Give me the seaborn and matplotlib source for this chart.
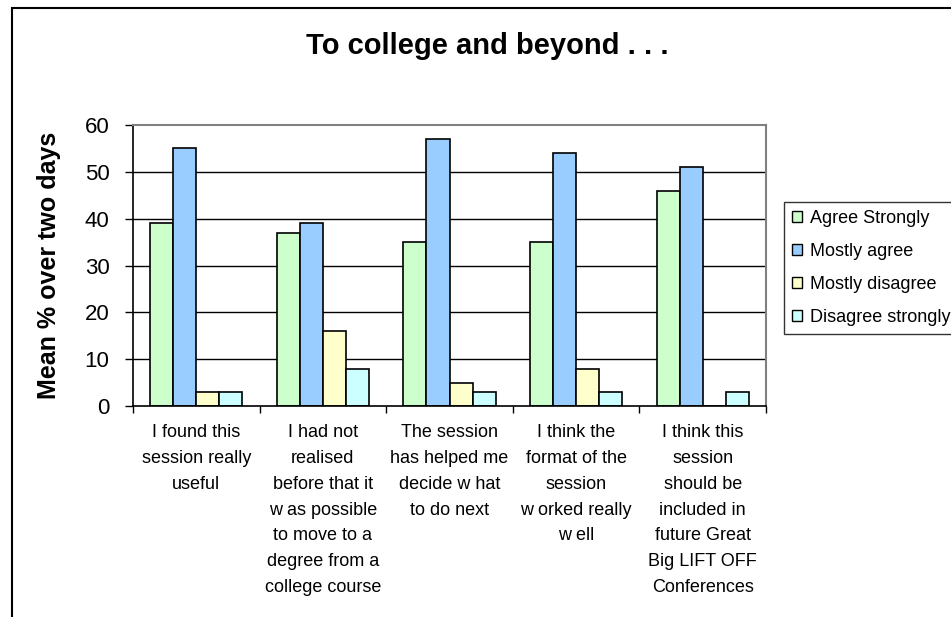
import numpy as np
import pandas as pd
import matplotlib
matplotlib.use('Agg')
import matplotlib.pyplot as plt
import seaborn as sns
from matplotlib.patches import Rectangle

# Survey statements (x axis), wrapped as in the original chart
statements = [
    'I found this\nsession really\nuseful',
    'I had not\nrealised\nbefore that it\nw as possible\nto move to a\ndegree from a\ncollege course',
    'The session\nhas helped me\ndecide w hat\nto do next',
    'I think the\nformat of the\nsession\nw orked really\nw ell',
    'I think this\nsession\nshould be\nincluded in\nfuture Great\nBig LIFT OFF\nConferences',
]
responses = ['Agree Strongly', 'Mostly agree', 'Mostly disagree', 'Disagree strongly']

agree_strongly = [39, 37, 35, 35, 46]
mostly_agree = [55, 39, 57, 54, 51]
mostly_disagree = [3, 16, 5, 8, 0]
disagree_strongly = [3, 8, 3, 3, 3]

colors = ['#CCFFCC', '#99CCFF', '#FFFFCC', '#CCFFFF']

# long format table for seaborn
rows = []
for resp, vals in zip(responses, [agree_strongly, mostly_agree, mostly_disagree, disagree_strongly]):
    for st, v in zip(statements, vals):
        rows.append({'statement': st, 'response': resp, 'value': v})
df = pd.DataFrame(rows)

sns.set_style('white')
plt.rcParams['font.family'] = ['Liberation Sans', 'DejaVu Sans']
plt.rcParams['text.color'] = 'black'
plt.rcParams['axes.labelcolor'] = 'black'
plt.rcParams['xtick.color'] = 'black'
plt.rcParams['ytick.color'] = 'black'

fig = plt.figure(figsize=(9.51, 6.17), dpi=100)
ax = fig.add_axes([133 / 951, 1 - 406 / 617, (766 - 133) / 951, (406 - 125) / 617])

sns.barplot(data=df, x='statement', y='value', hue='response', order=statements,
            hue_order=responses, palette=colors, width=0.727, edgecolor='black',
            linewidth=1.2, saturation=1, ax=ax, legend=False)

ax.set_ylim(0, 60)
ax.set_xlim(-0.5, len(statements) - 0.5)
ax.set_yticks(range(0, 61, 10))
ax.set_xlabel('')
ax.set_ylabel('')

# gridlines
for y in range(10, 60, 10):
    ax.axhline(y, color='black', lw=1, zorder=0)

for side in ['top', 'right']:
    ax.spines[side].set_color('#808080')
    ax.spines[side].set_linewidth(1.5)
for side in ['left', 'bottom']:
    ax.spines[side].set_color('black')
    ax.spines[side].set_linewidth(1.2)

ax.tick_params(axis='y', direction='out', length=6, width=1, pad=11, labelsize=16,
               left=True, colors='black')
ax.tick_params(axis='x', which='major', length=0, pad=13, labelsize=13, colors='black')
ax.set_xticks(np.arange(-0.5, len(statements), 1), minor=True)
ax.tick_params(axis='x', which='minor', direction='out', length=5, width=1, bottom=True)
for lab in ax.get_xticklabels():
    lab.set_linespacing(1.68)

# legend
handles = [Rectangle((0, 0), 1, 1, facecolor=c, edgecolor='black', lw=1) for c in colors]
leg = fig.legend(handles, responses, loc='upper left', bbox_to_anchor=(784 / 951, 1 - 202 / 617),
                 fontsize=13, frameon=True, fancybox=False, handlelength=0.55, handleheight=0.55,
                 handletextpad=0.45, labelspacing=0.88, borderpad=0.45, borderaxespad=0)
leg.get_frame().set_edgecolor('black')
leg.get_frame().set_linewidth(1)

fig.text(487 / 951, 1 - 46 / 617, 'To college and beyond . . .', ha='center', va='center',
         fontsize=21, fontweight='bold')
fig.text(49 / 951, 1 - 265 / 617, 'Mean % over two days', ha='center', va='center',
         rotation=90, fontsize=18, fontweight='bold')

# chart border
fig.patches.append(Rectangle((12 / 951, -0.1), 1.2, 1 - 8 / 617 + 0.1, transform=fig.transFigure,
                             fill=False, edgecolor='black', lw=1.5))

fig.savefig('out.png', dpi=100)
